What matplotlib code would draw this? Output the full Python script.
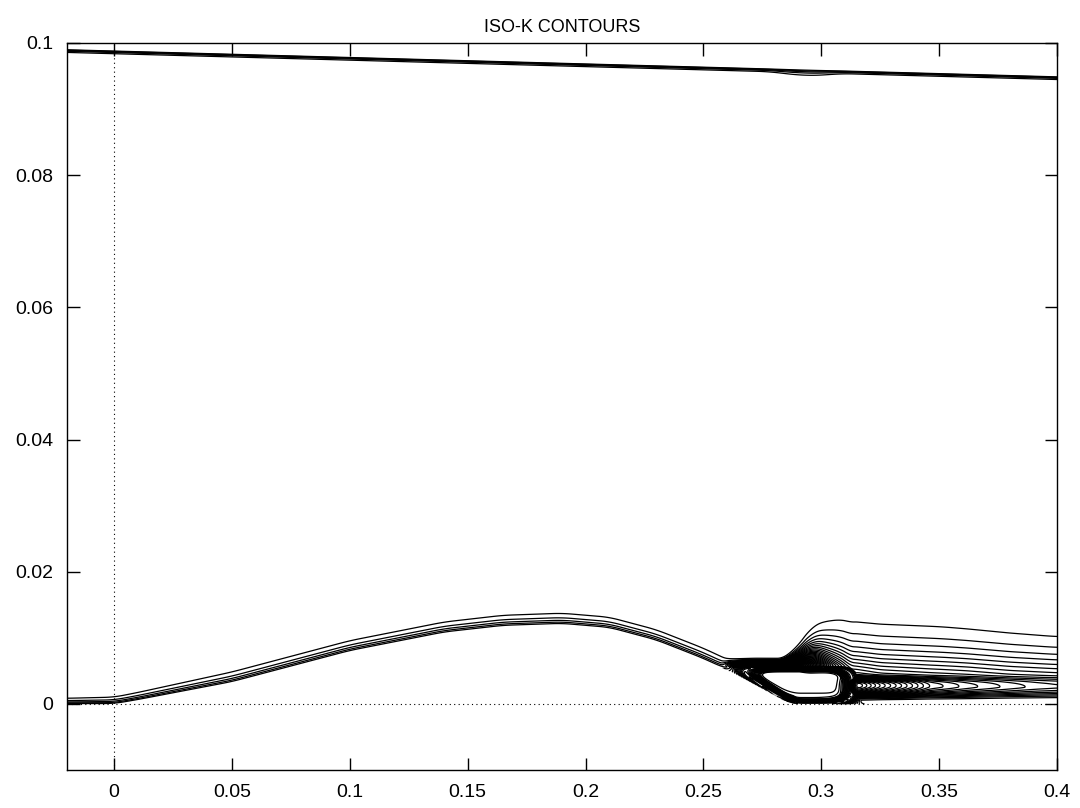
import numpy as np
import matplotlib
matplotlib.use("Agg")
import matplotlib.pyplot as plt

plt.rcParams['font.family'] = ['Liberation Sans', 'DejaVu Sans']

# lower wall (bump) profile
wall_x = [-0.02, 0.0, 0.01, 0.05, 0.10, 0.14, 0.165, 0.19, 0.21, 0.23, 0.25, 0.265, 0.287, 0.40]
wall_y = [0.0, 0.0, 0.0006, 0.0033, 0.0080, 0.0108, 0.0118, 0.0121, 0.0115, 0.0096, 0.0068, 0.0043, 0.0, 0.0]

# boundary layer thickness along the bump
blt_x = [-0.02, 0.0, 0.05, 0.19, 0.40]
blt_v = [0.00050, 0.00060, 0.00090, 0.00095, 0.00095]
bl_peak = 0.11

# upper wall and its near-wall layer
top_x = [-0.02, 0.40]
top_y = [0.0990, 0.0949]
topbl_x = [-0.02, 0.278, 0.288, 0.293, 0.300, 0.308, 0.40]
topbl_d = [0.00025, 0.00025, 0.00045, 0.00050, 0.00045, 0.00025, 0.00025]

# shear layer and outer wake
amp_x = [0.258, 0.272, 0.297, 0.312, 0.325, 0.346, 0.362, 0.380, 0.40]
amp_v = [0.0, 0.80, 0.80, 0.30, 0.26, 0.24, 0.23, 0.21, 0.20]
yc_x = [0.25, 0.29, 0.305, 0.40]
yc_v = [0.0059, 0.0059, 0.0026, 0.0025]
wup_x = [0.25, 0.287, 0.298, 0.31, 0.35, 0.40]
wup_v = [0.00042, 0.00042, 0.0035, 0.0051, 0.0050, 0.0044]
wlo_x = [0.25, 0.29, 0.305, 0.40]
wlo_v = [0.0006, 0.0006, 0.0022, 0.0022]

# wake core (closed loops)
core_x = [0.298, 0.307, 0.325, 0.346, 0.362, 0.380, 0.3915, 0.40]
core_v = [0.0, 0.45, 0.30, 0.13, 0.09, 0.07, 0.055, 0.05]
core_y = 0.0025
core_w = 0.0014
wall_eps = 0.0009

# separation bubble (white region) and the dense ring round it
bub_x, bub_y = 0.2940, 0.0028
bub_rx, bub_ry = 0.0132, 0.0019
bub_slope = 4.2
ring_amp = 0.80

levels = np.arange(0.02, 0.80, 0.02)

xg = np.linspace(-0.02, 0.40, 1500)
yg = np.concatenate([np.linspace(0.0, 0.016, 1200),
                     np.linspace(0.0162, 0.0895, 60),
                     np.linspace(0.09, 0.1, 500)])
X, Y = np.meshgrid(xg, yg)


def prof(px, pv, n):
    v = np.interp(xg, px, pv)
    if n > 1:
        v = np.convolve(np.pad(v, n // 2, mode='edge'), np.ones(n) / n, mode='valid')
    return v[None, :]


wall = prof(wall_x, wall_y, 31)
top = prof(top_x, top_y, 1)

eta = Y - wall
etap = np.clip(eta, 0, None)

k_bl = bl_peak * np.exp(-etap / prof(blt_x, blt_v, 31))
k_top = bl_peak * np.exp(-np.clip(top - Y, 0, None) / prof(topbl_x, topbl_d, 41))

S = prof(amp_x, amp_v, 15)
yc = prof(yc_x, yc_v, 31)
wu = prof(wup_x, wup_v, 41)
wl = prof(wlo_x, wlo_v, 21)
d = Y - yc
G = np.where(d > 0, np.exp(-(np.abs(d) / wu) ** 1.5), np.exp(-(np.abs(d) / wl) ** 1.5))
C = prof(core_x, core_v, 15)
core = C * np.exp(-((Y - core_y) / core_w) ** 4)
wallfac = 1 - np.exp(-etap / wall_eps)

s = np.clip((bub_x - X) / 0.006, 0, 1)
xr = (X - bub_x + bub_slope * (Y - bub_y) * s) / bub_rx
yr = (Y - bub_y) / bub_ry
r = (xr ** 4 + yr ** 4) ** 0.25
H = np.exp(-(r / 1.42) ** 10)
rw = np.where(r < 1.17, 0.09, 0.40)
ring = ring_amp * np.exp(-((r - 1.17) / rw) ** 2)

k_w = np.maximum((S * G + core) * wallfac, ring)
k = k_bl + k_top + k_w * (1 - H)
k = np.ma.masked_where((eta < 0) | (Y > top), k)

fig = plt.figure(figsize=(10.8, 8.08), dpi=100)
ax = fig.add_axes([67 / 1080, 1 - 770 / 808, 990 / 1080, 727 / 808])

ax.axhline(0, color='black', lw=0.8, ls=(0, (1, 3)), zorder=1)
ax.axvline(0, color='black', lw=0.8, ls=(0, (1, 3)), zorder=1)
ax.contour(X, Y, k, levels=levels, colors='black', linewidths=0.9, zorder=2)

ax.set_xlim(-0.02, 0.4)
ax.set_ylim(-0.01, 0.1)
ax.set_xticks([0, 0.05, 0.1, 0.15, 0.2, 0.25, 0.3, 0.35, 0.4])
ax.set_xticklabels(['0', '0.05', '0.1', '0.15', '0.2', '0.25', '0.3', '0.35', '0.4'])
ax.set_yticks([0, 0.02, 0.04, 0.06, 0.08, 0.1])
ax.set_yticklabels(['0', '0.02', '0.04', '0.06', '0.08', '0.1'])
ax.tick_params(direction='in', length=9, width=1, top=True, right=True,
               labelsize=14, pad=10)
for sp in ax.spines.values():
    sp.set_linewidth(1.0)
ax.set_title('ISO-K CONTOURS', fontsize=13, pad=8)

fig.savefig('out.png', dpi=100)
